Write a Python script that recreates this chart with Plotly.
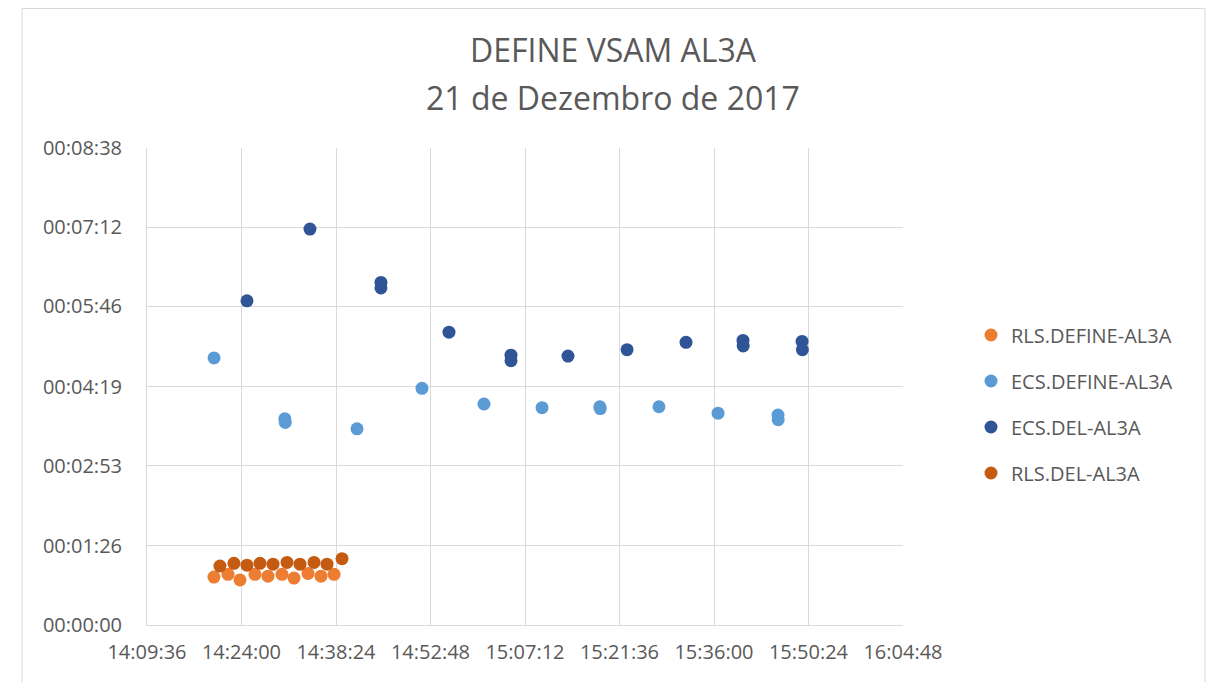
import plotly.graph_objects as go

# ---------------- data ----------------
rls_define_time = ["14:19:48", "14:21:57", "14:23:46", "14:26:03", "14:28:02",
                   "14:30:10", "14:32:00", "14:34:08", "14:36:07", "14:38:06"]
rls_define_dur = ["00:00:52", "00:00:55", "00:00:49", "00:00:55", "00:00:53",
                  "00:00:55", "00:00:51", "00:00:56", "00:00:53", "00:00:55"]

ecs_define_time = ["14:19:49", "14:30:36", "14:30:40", "14:41:36", "14:51:30",
                   "15:00:57", "15:09:48", "15:18:36", "15:18:40", "15:27:37",
                   "15:36:37", "15:45:45", "15:45:47"]
ecs_define_dur = ["00:04:50", "00:03:44", "00:03:40", "00:03:33", "00:04:17",
                  "00:04:00", "00:03:56", "00:03:57", "00:03:55", "00:03:57",
                  "00:03:50", "00:03:48", "00:03:43"]

ecs_del_time = ["14:24:50", "14:34:26", "14:45:15", "14:45:15", "14:55:37",
                "15:05:04", "15:05:04", "15:13:45", "15:22:45", "15:31:44",
                "15:40:25", "15:40:27", "15:49:25", "15:49:28"]
ecs_del_dur = ["00:05:52", "00:07:10", "00:06:12", "00:06:06", "00:05:18",
               "00:04:53", "00:04:47", "00:04:52", "00:04:59", "00:05:07",
               "00:05:09", "00:05:03", "00:05:08", "00:04:59"]

rls_del_time = ["14:20:43", "14:22:51", "14:24:50", "14:26:49", "14:28:48",
                "14:30:56", "14:32:55", "14:35:03", "14:37:02", "14:39:19"]
rls_del_dur = ["00:01:04", "00:01:07", "00:01:05", "00:01:07", "00:01:06",
               "00:01:08", "00:01:06", "00:01:08", "00:01:06", "00:01:12"]

x_tick_labels = ["14:09:36", "14:24:00", "14:38:24", "14:52:48", "15:07:12",
                 "15:21:36", "15:36:00", "15:50:24", "16:04:48"]
y_tick_labels = ["00:00:00", "00:01:26", "00:02:53", "00:04:19", "00:05:46",
                 "00:07:12", "00:08:38"]

series_names = ["RLS.DEFINE-AL3A", "ECS.DEFINE-AL3A", "ECS.DEL-AL3A", "RLS.DEL-AL3A"]
series_colors = ["#ED7D31", "#5B9BD5", "#2F5597", "#C55A11"]


def sec(s):
    h, m, x = (int(v) for v in s.split(":"))
    return h * 3600 + m * 60 + x


series = [
    (rls_define_time, rls_define_dur),
    (ecs_define_time, ecs_define_dur),
    (ecs_del_time, ecs_del_dur),
    (rls_del_time, rls_del_dur),
]

FONT = "Open Sans"
TXT = "#595959"
GRID = "#D9D9D9"

fig = go.Figure()
for name, color, (t, d) in zip(series_names, series_colors, series):
    fig.add_trace(go.Scatter(
        x=[sec(v) for v in t],
        y=[sec(v) for v in d],
        mode="markers",
        name=name,
        legendgroup=name,
        marker=dict(color=color, size=13, line=dict(width=0)),
    ))

xt = [sec(v) for v in x_tick_labels]
yt = [sec(v) for v in y_tick_labels]

OFF = 8  # page body margin
W, H = 1214 - OFF, 682 - OFF
# plot area in page coordinates
PL, PR, PT, PB = 147, 903, 148, 625
L, T = PL - OFF, PT - OFF
R, B = W - (PR - OFF), H - (PB - OFF)
pw, ph = PR - PL, PB - PT


def px(xp):
    return (xp - PL) / pw


def py(yp):
    return (PB - yp) / ph


fig.update_layout(
    width=W, height=H,
    margin=dict(l=L, r=R, t=T, b=B),
    paper_bgcolor="white", plot_bgcolor="white",
    font=dict(family=FONT, color=TXT, size=20),
    showlegend=True,
    legend=dict(x=px(971), xanchor="left", y=py(404), yanchor="middle",
                font=dict(size=20, color=TXT, family=FONT),
                tracegroupgap=17, itemwidth=30, bgcolor="rgba(0,0,0,0)"),
    xaxis=dict(range=[xt[0], xt[-1]], tickvals=xt, ticktext=x_tick_labels,
               showgrid=True, gridcolor=GRID, gridwidth=1,
               showline=True, linecolor=GRID, linewidth=1,
               zeroline=False, ticks="", tickfont=dict(size=20, color=TXT),
               ticklabelstandoff=9),
    yaxis=dict(range=[yt[0], yt[-1]], tickvals=yt, ticktext=y_tick_labels,
               showgrid=True, gridcolor=GRID, gridwidth=1,
               showline=True, linecolor=GRID, linewidth=1,
               zeroline=False, ticks="", tickfont=dict(size=20, color=TXT),
               ticklabelstandoff=20),
    annotations=[
        dict(text="DEFINE VSAM AL3A", xref="paper", yref="paper",
             x=px(613), y=py(50), xanchor="center", yanchor="middle",
             showarrow=False, font=dict(size=32, color=TXT, family=FONT)),
        dict(text="21 de Dezembro de 2017", xref="paper", yref="paper",
             x=px(613), y=py(97), xanchor="center", yanchor="middle",
             showarrow=False, font=dict(size=32, color=TXT, family=FONT)),
    ],
    shapes=[
        dict(type="rect", xref="paper", yref="paper",
             x0=px(22), x1=px(1205), y0=py(720), y1=py(8.5),
             line=dict(color=GRID, width=1), fillcolor="rgba(0,0,0,0)",
             layer="below"),
    ],
)

fig.write_html("out.html")
